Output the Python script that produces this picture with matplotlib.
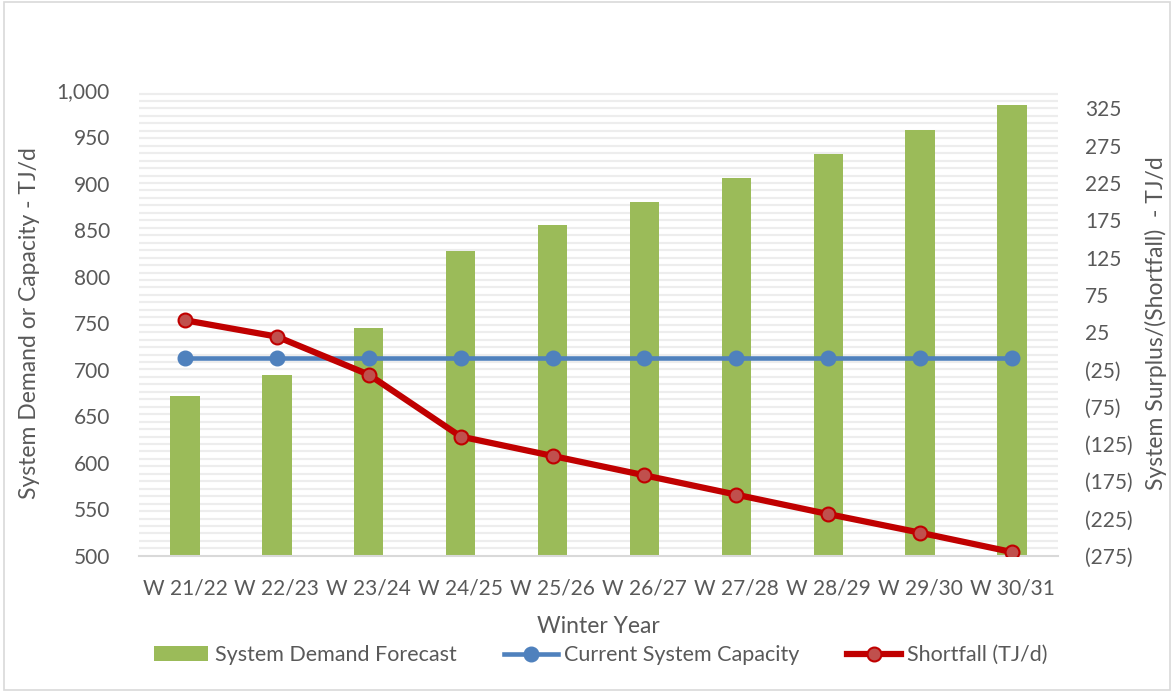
import numpy as np
import matplotlib
matplotlib.use("Agg")
import matplotlib.pyplot as plt
from matplotlib.ticker import FuncFormatter
from matplotlib.patches import Rectangle

plt.rcParams['font.family'] = ['Lato', 'DejaVu Sans']

# data
years = ['W 21/22', 'W 22/23', 'W 23/24', 'W 24/25', 'W 25/26',
         'W 26/27', 'W 27/28', 'W 28/29', 'W 29/30', 'W 30/31']
demand = [672, 694, 745, 828, 855, 880, 906, 932, 958, 984]
capacity = [713, 713, 713, 713, 713, 713, 713, 713, 713, 713]
shortfall = [41, 19, -32, -115, -141, -167, -193, -219, -244, -270]

left_lim = (500, 1000)
right_lim = (-275, 349)
right_ticks = list(range(-275, 326, 50))

grey = '#595959'
green = '#9BBB59'
blue = '#4F81BD'
red = '#C00000'

fig = plt.figure(figsize=(11.74, 6.92), dpi=100)
ax = fig.add_axes([0.1184, 0.1968, 0.7828, 0.6723])
ax2 = ax.twinx()

x = np.arange(len(years))

# light gridlines every 10 on the right scale, drawn behind the bars
for r in np.arange(right_lim[0] + 10, right_lim[1], 10):
    lv = left_lim[0] + (r - right_lim[0]) / (right_lim[1] - right_lim[0]) * (left_lim[1] - left_lim[0])
    ax.axhline(lv, color='#EDEDED', lw=1.6, zorder=0)

bars = ax.bar(x, demand, width=0.32, color=green, zorder=2, label='System Demand Forecast')
ax.set_xlim(-0.5, len(years) - 0.5)
ax.set_ylim(*left_lim)
ax.set_yticks(range(500, 1001, 50))
ax.yaxis.set_major_formatter(FuncFormatter(lambda v, p: f'{v:,.0f}'))
ax.set_xticks(x)
ax.set_xticklabels(years)

cap_line, = ax.plot(x, capacity, color=blue, lw=3.3, marker='o', ms=10.5,
                    mfc=blue, mec=blue, zorder=3, label='Current System Capacity')

sf_line, = ax2.plot(x, shortfall, color=red, lw=4.5, marker='o', ms=10,
                    mfc='#C0504D', mec=red, mew=1.5, zorder=3, label='Shortfall (TJ/d)')
ax2.set_ylim(*right_lim)
ax2.set_yticks(right_ticks)
ax2.yaxis.set_major_formatter(FuncFormatter(lambda v, p: f'({abs(v):.0f})' if v < 0 else f'{v:.0f}'))

for a in (ax, ax2):
    for s in a.spines.values():
        s.set_visible(False)
    a.tick_params(length=0, labelsize=15, colors=grey)
ax.spines['bottom'].set_visible(True)
ax.spines['bottom'].set_color('#D9D9D9')
ax.spines['bottom'].set_linewidth(1.5)
ax.tick_params(axis='x', pad=16)
ax.tick_params(axis='y', pad=21)
ax2.tick_params(axis='y', pad=19.5)

ax.set_xlabel('Winter Year', fontsize=16.5, color=grey, labelpad=13)
ax.set_ylabel('System Demand or Capacity - TJ/d', fontsize=16.5, color=grey, labelpad=12)
ax2.set_ylabel('System Surplus/(Shortfall)  - TJ/d', fontsize=16.5, color=grey, labelpad=9)

leg = fig.legend([bars, cap_line, sf_line],
                 ['System Demand Forecast', 'Current System Capacity', 'Shortfall (TJ/d)'],
                 loc='center', bbox_to_anchor=(0.512, 0.053), ncol=3,
                 frameon=False, fontsize=15.5, columnspacing=2.2, handlelength=2.5,
                 handletextpad=0.3)
for t in leg.get_texts():
    t.set_color(grey)

fig.patches.append(Rectangle((0.003, 0.003), 0.994, 0.994, transform=fig.transFigure,
                             fill=False, ec='#D9D9D9', lw=1.2))

fig.savefig('out.png', dpi=100)
